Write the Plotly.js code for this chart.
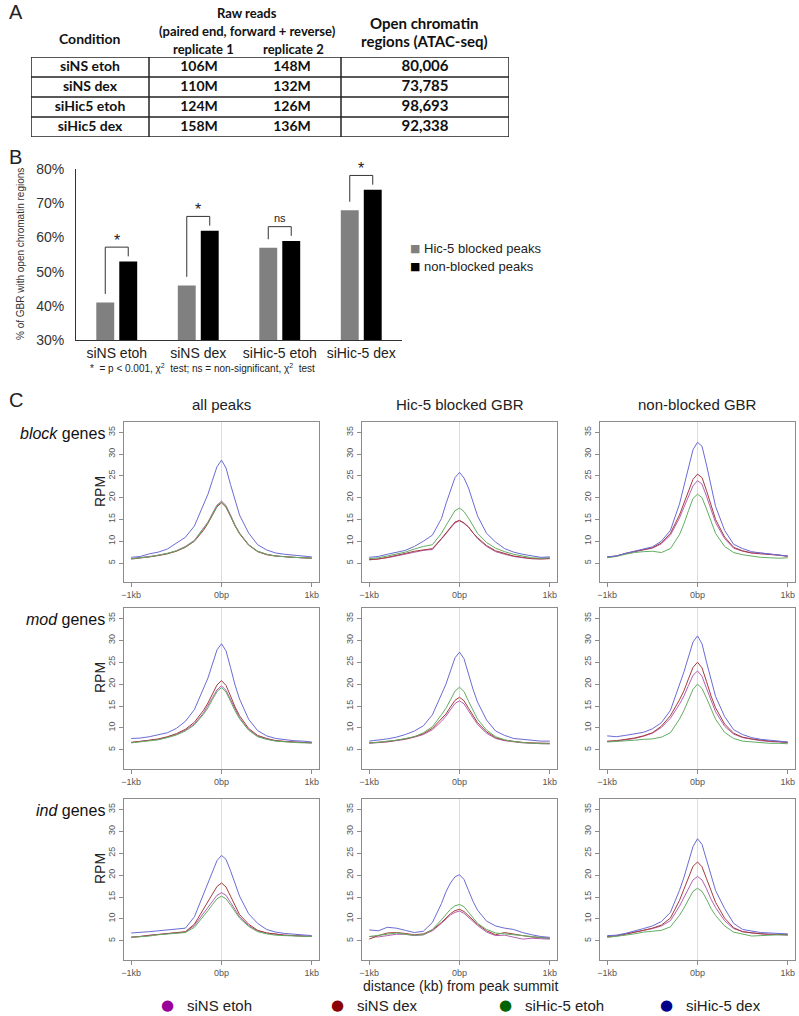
<!DOCTYPE html>
<html>
<head>
<meta charset="utf-8">
<script src="https://cdn.plot.ly/plotly-3.0.1.min.js"></script>
<style>
  html, body { margin: 0; padding: 0; background: #fff; }
  #fig { width: 799px; height: 1016px; }
</style>
</head>
<body>
<div id="fig"></div>
<script>
// ---- A: sequencing summary ----
const conditions = ['siNS etoh', 'siNS dex', 'siHic5 etoh', 'siHic5 dex'];
const rawRep1 = ['106M', '110M', '124M', '158M'];
const rawRep2 = ['148M', '132M', '126M', '136M'];
const openRegions = ['80,006', '73,785', '98,693', '92,338'];

// ---- B: % of GBR with open chromatin ----
const barCats = ['siNS etoh', 'siNS dex', 'siHic-5 etoh', 'siHic-5 dex'];
const barSeries = ['Hic-5 blocked peaks', 'non-blocked peaks'];
const blockedPct = [41, 46, 57, 68];
const nonBlockedPct = [53, 62, 59, 74];
const sigLabels = ['*', '*', 'ns', '*'];

// ---- C: ATAC-seq profiles (RPM) around GR peak summits ----
const distBp = [-1000, -900, -800, -700, -600, -500, -400, -300, -200, -150, -100, -50, 0,
                50, 100, 150, 200, 300, 400, 500, 600, 700, 800, 900, 1000];
const seriesNames = ['siNS etoh', 'siNS dex', 'siHic-5 etoh', 'siHic-5 dex'];
const rowNames = ['block', 'mod', 'ind'];
const colNames = ['all peaks', 'Hic-5 blocked GBR', 'non-blocked GBR'];

// each panel: [siNS etoh, siNS dex, siHic-5 etoh, siHic-5 dex]
const blockAll = [
  [6.0,6.2,6.5,6.8,7.2,7.8,8.8,10.2,12.9,14.4,16.4,18.3,19.2,18.2,16.0,13.7,11.9,9.2,7.7,7.0,6.6,6.4,6.3,6.2,6.1],
  [5.9,6.1,6.4,6.7,7.1,7.7,8.6,10.0,12.5,14.1,16.0,17.9,18.8,17.8,15.7,13.5,11.7,9.1,7.6,6.9,6.6,6.4,6.3,6.2,6.1],
  [6.0,6.2,6.4,6.8,7.2,7.8,8.7,10.1,12.8,14.3,16.2,18.1,19.0,18.0,15.9,13.6,11.8,9.2,7.7,7.0,6.6,6.4,6.3,6.2,6.1],
  [6.3,6.5,7.1,7.5,8.2,9.5,10.9,13.5,18.1,20.8,24.0,27.1,28.6,26.8,23.0,19.2,16.0,11.9,9.2,8.0,7.3,7.0,6.8,6.6,6.4]
];
const blockBlocked = [
  [5.7,5.9,6.2,6.6,7.0,7.5,7.9,8.1,10.4,11.7,13.0,14.2,14.7,14.1,13.2,11.8,10.6,8.8,7.6,7.0,6.5,6.2,6.0,6.0,6.1],
  [5.8,5.9,6.3,6.7,7.2,7.7,8.0,8.3,10.6,11.9,13.2,14.4,14.8,14.2,13.3,11.9,10.8,9.0,7.8,7.2,6.6,6.3,6.0,5.9,6.0],
  [6.0,6.2,6.6,7.0,7.5,8.2,8.8,9.2,11.8,13.6,15.3,17.0,17.6,16.8,15.3,13.4,11.8,9.7,8.4,7.6,7.0,6.6,6.2,6.1,6.2],
  [6.3,6.5,7.0,7.4,7.9,8.8,10.0,11.4,15.2,18.6,21.8,24.6,25.8,24.5,22.2,18.8,15.8,11.8,9.8,8.3,7.5,7.0,6.6,6.3,6.4]
];
const blockNonBlocked = [
  [6.3,6.6,7.1,7.6,8.0,8.4,9.4,11.4,15.3,17.8,20.3,22.7,23.9,23.1,20.3,17.2,14.3,10.6,8.4,7.7,7.3,7.3,7.1,6.8,6.5],
  [6.4,6.6,7.2,7.6,8.0,8.5,9.6,11.8,16.0,18.9,21.6,24.2,25.4,24.6,21.6,18.2,15.0,11.0,8.6,7.8,7.3,7.1,7.0,6.8,6.6],
  [6.2,6.5,7.0,7.4,7.6,7.7,7.4,8.3,11.5,14.0,17.0,19.8,20.8,20.0,17.4,14.4,11.8,8.8,7.4,6.9,6.6,6.3,6.2,6.1,6.2],
  [6.4,6.6,7.2,7.7,8.2,8.7,10.0,12.5,18.5,22.5,27.0,31.0,32.7,31.8,27.5,22.5,18.0,12.5,9.3,8.3,7.6,7.3,7.1,6.8,6.6]
];
const modAll = [
  [6.7,6.9,7.1,7.4,7.9,8.5,9.5,10.9,13.4,15.0,16.9,18.7,19.6,18.6,16.4,14.1,12.3,9.6,8.1,7.5,7.1,6.9,6.8,6.7,6.6],
  [6.7,6.9,7.2,7.5,8.0,8.7,9.7,11.3,14.0,15.7,17.8,19.8,20.8,19.7,17.3,14.8,12.8,9.9,8.3,7.6,7.1,6.9,6.8,6.7,6.6],
  [6.6,6.8,7.0,7.3,7.8,8.4,9.3,10.7,13.1,14.6,16.5,18.3,19.2,18.2,16.1,13.9,12.1,9.5,8.0,7.4,7.0,6.8,6.7,6.6,6.6],
  [7.6,7.7,8.0,8.4,8.9,9.9,11.5,14.2,18.8,21.4,24.6,27.8,29.2,27.6,23.8,19.8,16.6,12.0,9.4,8.2,7.6,7.3,7.1,7.0,6.8]
];
const modBlocked = [
  [6.5,6.6,6.8,7.1,7.4,7.9,8.5,9.6,11.5,12.7,14.2,15.6,16.2,15.5,13.9,12.2,10.8,8.8,7.6,7.1,6.8,6.6,6.5,6.5,6.4],
  [6.6,6.7,6.9,7.2,7.5,8.0,8.7,9.9,12.0,13.2,14.8,16.3,17.0,16.2,14.5,12.7,11.2,9.1,7.8,7.2,6.9,6.7,6.6,6.5,6.5],
  [6.6,6.7,7.0,7.2,7.6,8.0,8.9,10.3,13.0,14.5,16.4,18.4,19.3,18.3,16.1,13.9,12.0,9.5,8.0,7.3,6.9,6.7,6.5,6.4,6.4],
  [7.0,7.2,7.5,7.9,8.5,9.3,10.5,13.0,17.5,20.0,23.0,26.0,27.3,25.8,22.3,18.8,15.9,11.8,9.3,8.3,7.6,7.4,7.2,7.0,7.0]
];
const modNonBlocked = [
  [6.9,7.0,7.3,7.6,8.1,8.8,10.1,12.2,15.4,17.3,19.7,22.0,23.0,21.8,19.0,16.1,13.7,10.4,8.6,7.8,7.4,7.1,6.9,6.8,6.7],
  [7.0,7.1,7.4,7.7,8.2,8.9,10.4,12.8,16.4,18.5,21.2,23.8,25.0,23.7,20.6,17.3,14.6,10.9,8.8,7.9,7.5,7.2,7.0,6.9,6.7],
  [6.8,6.9,7.0,7.2,7.4,7.5,7.9,8.9,12.0,14.0,16.4,18.8,20.0,19.0,16.8,14.2,12.0,9.0,7.6,7.0,6.8,6.6,6.5,6.5,6.4],
  [8.2,8.0,8.3,8.6,9.0,9.8,11.2,14.0,19.6,22.8,26.2,29.6,31.0,29.2,25.0,20.8,17.2,12.6,9.6,8.5,7.8,7.4,7.2,7.0,6.8]
];
const indAll = [
  [5.9,6.0,6.3,6.5,6.7,6.9,7.0,8.5,11.2,12.6,14.1,15.4,16.0,15.4,13.8,12.0,10.5,8.5,7.3,6.8,6.5,6.3,6.2,6.1,6.0],
  [5.8,6.0,6.2,6.5,6.7,6.9,7.1,8.8,12.3,14.0,15.8,17.4,18.2,17.3,15.2,13.0,11.0,8.8,7.4,6.8,6.5,6.3,6.2,6.1,6.0],
  [5.8,5.9,6.1,6.4,6.6,6.8,6.9,8.1,10.5,11.9,13.3,14.6,15.2,14.6,13.2,11.6,10.2,8.3,7.1,6.6,6.3,6.2,6.1,6.0,6.0],
  [6.8,6.9,7.1,7.3,7.5,7.6,7.9,10.5,15.5,18.0,20.8,23.3,24.5,23.6,21.0,18.0,15.2,11.2,9.0,7.6,7.0,6.7,6.5,6.3,6.2]
];
const indBlocked = [
  [6.0,5.9,6.2,6.5,6.5,6.2,6.4,7.3,9.0,10.0,10.9,11.5,11.8,11.3,10.4,9.4,8.5,7.0,6.2,6.3,5.8,5.4,5.6,5.5,5.4],
  [5.4,6.2,6.8,6.9,6.7,6.4,6.6,7.5,9.2,10.2,11.2,11.9,12.2,11.7,10.8,9.8,8.8,7.3,6.4,6.9,6.5,6.2,5.9,5.7,5.6],
  [6.0,6.3,6.6,6.8,6.5,6.3,6.4,7.6,9.8,11.0,12.2,13.0,13.3,12.8,11.6,10.2,9.0,7.6,6.8,6.6,6.4,6.2,6.0,5.8,5.6],
  [7.5,7.3,8.1,7.9,7.4,6.9,7.2,9.2,13.5,16.2,18.2,19.6,20.1,19.0,16.5,14.0,12.0,9.5,8.4,7.9,7.6,6.9,6.4,6.0,5.8]
];
const indNonBlocked = [
  [6.0,6.2,6.6,7.0,7.4,7.8,8.4,9.6,12.9,15.0,17.1,18.9,19.7,18.9,16.9,14.5,12.6,9.6,7.8,7.1,6.8,6.6,6.5,6.4,6.4],
  [5.9,6.1,6.5,6.9,7.4,7.9,8.6,10.2,14.2,16.8,19.5,22.0,23.0,21.9,19.2,16.3,13.8,10.2,8.0,7.1,6.8,6.6,6.5,6.4,6.4],
  [5.8,6.0,6.3,6.6,7.0,7.2,7.4,8.2,10.8,12.5,14.5,16.3,17.0,16.3,14.5,12.4,10.8,8.4,7.0,6.5,6.1,6.2,6.3,6.4,6.3],
  [6.2,6.3,6.7,7.2,7.8,8.4,9.4,11.5,16.5,19.5,22.8,26.5,28.3,27.0,23.5,19.8,16.5,12.4,9.0,7.6,7.2,6.9,6.8,6.7,6.6]
];
const panels = [blockAll, blockBlocked, blockNonBlocked,
                modAll, modBlocked, modNonBlocked,
                indAll, indBlocked, indNonBlocked];

// ---- styling / layout helpers ----
const W = 799, H = 1016;
const xdom = (l, r) => [l / W, r / W];
const ydom = (t, b) => [1 - b / H, 1 - t / H];
const FONT = 'Liberation Sans, Arial, sans-serif';
const TABLE_FONT = 'Lato, Liberation Sans, sans-serif';
const barColors = ['#808080', '#000000'];
const lineColors = ['#b361b3', '#a53b3b', '#62ad62', '#6b6bd4'];
const legendColors = ['#990099', '#8b0000', '#006400', '#00008b'];

const traces = [];
const shapes = [];
const annotations = [];

function note(text, xpx, ypx, opts) {
  annotations.push(Object.assign({
    text: text, x: xpx / W, y: 1 - ypx / H, xref: 'paper', yref: 'paper',
    showarrow: false, xanchor: 'center', yanchor: 'middle', borderpad: 0,
    font: { family: FONT, size: 14, color: '#222' }
  }, opts || {}));
}

// panel letters
['A', 'B', 'C'].forEach((t, i) => note(t, 8, [12, 157, 400][i],
  { xanchor: 'left', font: { family: FONT, size: 20, color: '#222' } }));

// ---- Table (A) on its own axis pair ----
const tableColX = [90, 199, 292, 425];
const tableCols = [conditions, rawRep1, rawRep2, openRegions];
tableCols.forEach((col, ci) => {
  traces.push({
    type: 'scatter', mode: 'text', xaxis: 'x11', yaxis: 'y11',
    x: col.map(() => tableColX[ci]),
    y: col.map((_, ri) => ri + 0.5),
    text: col.map(t => '<b>' + t + '</b>'),
    textfont: { family: TABLE_FONT, size: ci === 3 ? 15 : 14, color: '#111' },
    showlegend: false, hoverinfo: 'skip'
  });
});
const tableLine = { color: '#222', width: 1.5 };
shapes.push({ type: 'rect', xref: 'x11', yref: 'y11', x0: 31, x1: 509, y0: 0, y1: conditions.length, line: tableLine });
for (let r = 1; r < conditions.length; r++) {
  shapes.push({ type: 'line', xref: 'x11', yref: 'y11', x0: 31, x1: 509, y0: r, y1: r, line: tableLine });
}
[149, 341].forEach(xv => shapes.push({ type: 'line', xref: 'x11', yref: 'y11', x0: xv, x1: xv, y0: 0, y1: conditions.length, line: tableLine }));

const hdr = (t, x, y, size) => note('<b>' + t + '</b>', x, y, { font: { family: TABLE_FONT, size: size, color: '#111' } });
hdr('Condition', 90, 38, 14);
hdr('Raw reads', 247, 13, 13);
hdr('(paired end, forward + reverse)', 247, 31, 13);
hdr('replicate 1', 203, 49, 13);
hdr('replicate 2', 293, 49, 13);
hdr('Open chromatin', 424, 23, 15);
hdr('regions (ATAC-seq)', 424, 41, 15);

// ---- Bar chart (B) ----
[blockedPct, nonBlockedPct].forEach((vals, si) => {
  traces.push({
    type: 'bar', x: barCats, y: vals, name: barSeries[si],
    marker: { color: barColors[si] }, showlegend: false, hoverinfo: 'skip'
  });
});

// significance brackets
const half = 0.141;
const brk = { color: '#333', width: 1 };
barCats.forEach((c, i) => {
  const top = nonBlockedPct[i] + 4.2;
  const l = i - half, r = i + half;
  shapes.push({ type: 'line', xref: 'x', yref: 'y', x0: l, x1: l, y0: blockedPct[i] + 2.5, y1: top, line: brk });
  shapes.push({ type: 'line', xref: 'x', yref: 'y', x0: l, x1: r, y0: top, y1: top, line: brk });
  shapes.push({ type: 'line', xref: 'x', yref: 'y', x0: r, x1: r, y0: top, y1: nonBlockedPct[i] + 1.5, line: brk });
  const isNs = sigLabels[i] === 'ns';
  annotations.push({
    text: sigLabels[i], x: i, y: top, xref: 'x', yref: 'y', showarrow: false,
    yanchor: 'bottom', yshift: isNs ? 1 : -4,
    font: { family: FONT, size: isNs ? 11 : 16, color: '#222' }
  });
});
note('% of GBR with open chromatin regions', 20, 254, { textangle: -90, font: { family: FONT, size: 10, color: '#333' } });
note('*  = p < 0.001, χ<sup>2</sup>  test; ns = non-significant, χ<sup>2</sup>  test', 89, 368,
     { xanchor: 'left', font: { family: FONT, size: 10, color: '#222' } });

// bar legend
barSeries.forEach((nm, si) => {
  note('■', 415, 248 + si * 18, { font: { family: 'DejaVu Sans, sans-serif', size: 11, color: barColors[si] } });
  note(nm, 423, 248 + si * 18, { xanchor: 'left', font: { family: FONT, size: 13, color: '#222' } });
});

// ---- Profile panels (C) ----
const colPx = [[124, 319], [362, 557], [600, 795]];
const rowPx = [[422, 582], [608, 769], [799, 960]];
const layoutAxes = {};

panels.forEach((panel, k) => {
  const r = Math.floor(k / 3), c = k % 3, n = k + 2;
  panel.forEach((vals, si) => {
    traces.push({
      type: 'scatter', mode: 'lines', x: distBp, y: vals, name: seriesNames[si],
      xaxis: 'x' + n, yaxis: 'y' + n,
      line: { color: lineColors[si], width: 1 },
      showlegend: false, hoverinfo: 'skip'
    });
  });
  const common = {
    showline: true, mirror: true, linecolor: '#8c8c8c', linewidth: 1,
    ticks: 'outside', ticklen: 4, tickcolor: '#8c8c8c', showgrid: false,
    tickfont: { family: FONT, size: 9, color: '#555' }
  };
  layoutAxes['xaxis' + n] = Object.assign({}, common, {
    domain: xdom(colPx[c][0], colPx[c][1]), anchor: 'y' + n,
    range: [-1080, 1080], tickvals: [-1000, 0, 1000], ticktext: ['\u22121kb', '0bp', '1kb'],
    zeroline: true, zerolinecolor: '#dcdcdc', zerolinewidth: 1
  });
  layoutAxes['yaxis' + n] = Object.assign({}, common, {
    domain: ydom(rowPx[r][0], rowPx[r][1]), anchor: 'x' + n,
    range: [0.64, 37.36], tickvals: [5, 10, 15, 20, 25, 30, 35], tickangle: -90,
    zeroline: false
  });
});

colNames.forEach((t, c) => note(t, (colPx[c][0] + colPx[c][1]) / 2, 405, { font: { family: FONT, size: 15, color: '#222' } }));
rowNames.forEach((t, r) => {
  note('<i>' + t + '</i> genes', 106, rowPx[r][0] + 11, { xanchor: 'right', font: { family: FONT, size: 16, color: '#111' } });
  note('RPM', 100, rowPx[r][0] + 70, { textangle: -90, font: { family: FONT, size: 14, color: '#222' } });
});
note('distance (kb) from peak summit', 460, 986, { font: { family: FONT, size: 14, color: '#222' } });

// profile legend
const legendX = [167, 337, 505, 666];
seriesNames.forEach((nm, si) => {
  note('●', legendX[si], 1005, { font: { family: 'DejaVu Sans, sans-serif', size: 15, color: legendColors[si] } });
  note(nm, legendX[si] + 19, 1005, { xanchor: 'left', font: { family: FONT, size: 15, color: '#222' } });
});

const layout = Object.assign({
  width: W, height: H,
  margin: { l: 0, r: 0, t: 0, b: 0, autoexpand: false },
  paper_bgcolor: '#fff', plot_bgcolor: 'rgba(0,0,0,0)',
  font: { family: FONT, color: '#222' },
  showlegend: false,
  barmode: 'group', bargap: 0.436, bargroupgap: 0.22,
  xaxis: {
    domain: xdom(76, 402), anchor: 'y', type: 'category',
    showline: true, linecolor: '#333', linewidth: 1, ticks: '', showgrid: false,
    tickfont: { family: FONT, size: 14, color: '#222' }
  },
  yaxis: {
    domain: ydom(169.3, 340), anchor: 'x', range: [30, 80], dtick: 10, ticksuffix: '%',
    showline: true, linecolor: '#333', linewidth: 1, ticks: '', showgrid: false, zeroline: false,
    ticklabelstandoff: 8,
    tickfont: { family: FONT, size: 14, color: '#333' }
  },
  xaxis11: { domain: xdom(31, 509), anchor: 'y11', range: [31, 509], visible: false },
  yaxis11: { domain: ydom(57, 137), anchor: 'x11', range: [conditions.length, 0], visible: false },
  shapes: shapes,
  annotations: annotations
}, layoutAxes);

Plotly.newPlot('fig', traces, layout, { staticPlot: true, displayModeBar: false });
</script>
</body>
</html>
